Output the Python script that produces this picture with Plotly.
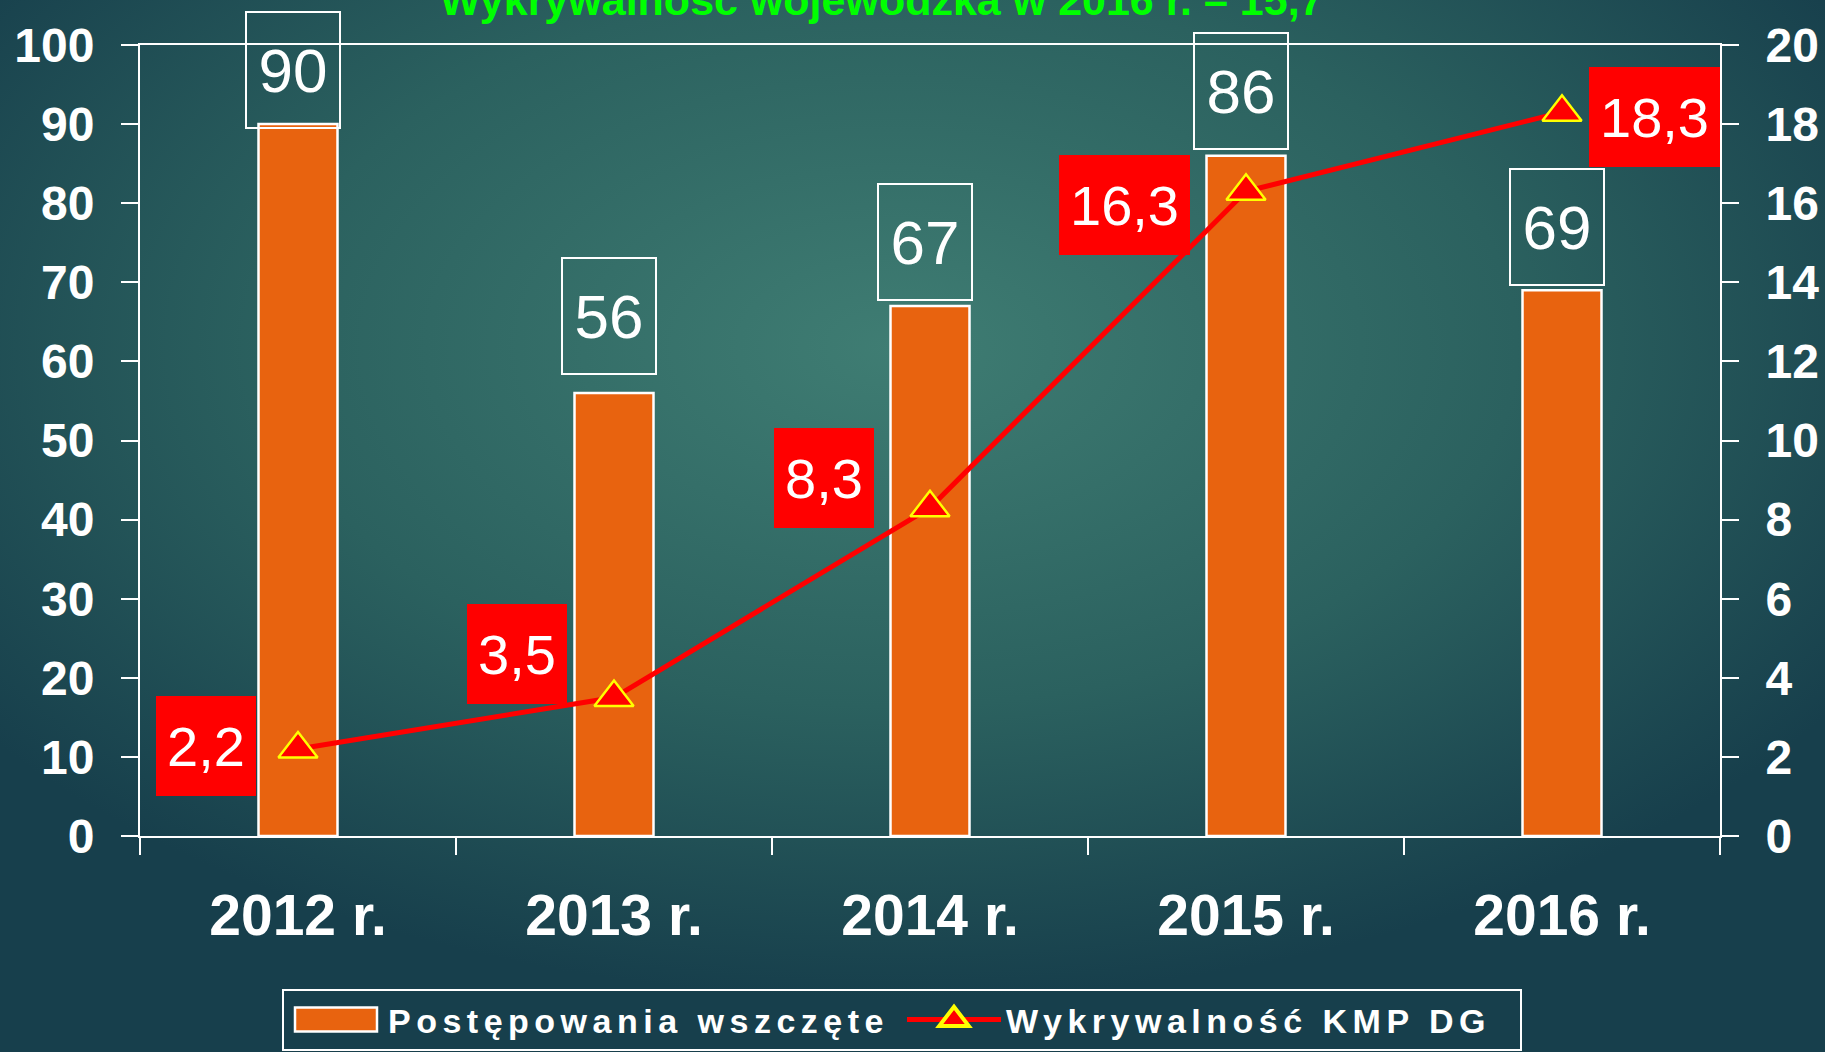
import base64
import plotly.graph_objects as go

# ---- data ----
years = ["2012 r.", "2013 r.", "2014 r.", "2015 r.", "2016 r."]
cases_started = [90, 56, 67, 86, 69]
detection_kmp = [2.2, 3.5, 8.3, 16.3, 18.3]
bar_name = "Postępowania wszczęte"
line_name = "Wykrywalność KMP DG"
title_text = "Wykrywalność wojewódzka w 2016 r. – 15,7"

# ---- geometry (px) ----
W, H = 1825, 1052
ML, MR, MT, MB = 140, 105, 45, 216
PW, PH = W - ML - MR, H - MT - MB

FONT = "Liberation Sans, Arial, sans-serif"
WHITE = "#ffffff"
ORANGE = "#E8630F"
RED = "#FF0000"

def py(p):  # pixel y -> paper y
    return (H - MB - p) / PH

def px(p):  # pixel x -> paper x
    return (p - ML) / PW

# background radial gradient (SVG)
svg = f"""<svg xmlns='http://www.w3.org/2000/svg' width='{W}' height='{H}' viewBox='0 0 {W} {H}' preserveAspectRatio='none'>
<defs><radialGradient id='g' cx='0.49' cy='0.33' r='0.62'>
<stop offset='0' stop-color='#3f7d73'/>
<stop offset='0.55' stop-color='#2b615f'/>
<stop offset='1' stop-color='#173f4c'/>
</radialGradient></defs>
<rect x='0' y='0' width='{W}' height='{H}' fill='url(#g)'/></svg>"""
bg_uri = "data:image/svg+xml;base64," + base64.b64encode(svg.encode()).decode()

fig = go.Figure()

fig.add_trace(go.Bar(
    x=years, y=cases_started, name=bar_name,
    marker=dict(color=ORANGE, line=dict(color=WHITE, width=2.5)),
    width=0.25, yaxis="y", xaxis="x",
))

fig.add_trace(go.Scatter(
    x=years, y=detection_kmp, name=line_name, yaxis="y2", xaxis="x",
    mode="lines+markers",
    line=dict(color=RED, width=5),
    marker=dict(symbol="triangle-up", size=34, color=RED,
                line=dict(color="#FFFF00", width=2.5)),
))

annotations = []
# bar value boxes (vertical nudges in px, as placed in the reference)
bar_label_nudge = [-5, 18, 5, 6, 4]
for cat, v, dy in zip(years, cases_started, bar_label_nudge):
    annotations.append(dict(
        x=cat, y=v, xref="x", yref="y", showarrow=False,
        text=str(v), font=dict(family=FONT, size=62, color=WHITE),
        xanchor="center", yanchor="bottom", xshift=-5, yshift=dy,
        bordercolor=WHITE, borderwidth=2, borderpad=11,
        width=70, height=92, bgcolor="rgba(0,0,0,0)",
    ))

# line value boxes (offsets in px relative to point)
label_offsets = [(-92, 3), (-97, 44), (-106, 30), (-122, -14), (92, -5)]
for cat, v, (dx, dy) in zip(years, detection_kmp, label_offsets):
    annotations.append(dict(
        x=cat, y=v, xref="x", yref="y2", showarrow=False,
        text=f"{v:.1f}".replace(".", ","),
        font=dict(family=FONT, size=56, color=WHITE),
        xanchor="center", yanchor="middle", xshift=dx, yshift=dy,
        bgcolor=RED, borderwidth=0, borderpad=11, height=78,
    ))

# title (partly cut off at top, as in reference)
annotations.append(dict(
    x=px(882), y=py(0), xref="paper", yref="paper", showarrow=False,
    text=title_text,
    font=dict(family=FONT, size=43, color="#00FF00", weight="bold"),
    xanchor="center", yanchor="middle",
))

tickfont = dict(family=FONT, size=48, color=WHITE, weight="bold")

fig.update_layout(
    width=W, height=H,
    margin=dict(l=ML, r=MR, t=MT, b=MB, pad=0, autoexpand=False),
    paper_bgcolor="#173f4c",
    plot_bgcolor="rgba(0,0,0,0)",
    images=[dict(source=bg_uri, xref="paper", yref="paper",
                 x=px(0), y=py(0), sizex=W / PW, sizey=H / PH,
                 xanchor="left", yanchor="top", sizing="stretch",
                 layer="below")],
    showlegend=True,
    legend=dict(
        orientation="h", x=px(282), y=py(989), xanchor="left", yanchor="top",
        bgcolor="rgba(0,0,0,0)", bordercolor=WHITE, borderwidth=2,
        font=dict(family=FONT, size=34, color=WHITE, weight="bold"),
        itemwidth=94, entrywidth=509, traceorder="normal",
    ),
    bargap=0.75,
    xaxis=dict(
        type="category", categoryorder="array", categoryarray=years,
        range=[-0.5, 4.5], showline=True, linecolor=WHITE, linewidth=2,
        mirror=True, showgrid=False, zeroline=False, automargin=False,
        ticks="outside", tickson="boundaries", ticklen=17, tickwidth=2,
        tickcolor=WHITE, tickfont=dict(family=FONT, size=57, color=WHITE, weight="bold"),
        ticklabelstandoff=29,
    ),
    xaxis3=dict(
        overlaying="x", anchor="y", type="linear", range=[-0.5, 4.5],
        tickvals=[-0.5, 0.5, 1.5, 2.5, 3.5, 4.5], ticks="inside",
        ticklen=17, tickwidth=2, tickcolor=WHITE, showticklabels=False,
        showgrid=False, zeroline=False, showline=False,
    ),
    yaxis=dict(
        range=[0, 100], dtick=10, showline=True, linecolor=WHITE, linewidth=2,
        showgrid=False, zeroline=False, ticks="outside", ticklen=17, automargin=False,
        tickwidth=2, tickcolor=WHITE, tickfont=tickfont, ticklabelstandoff=17,
    ),
    yaxis3=dict(
        overlaying="y", anchor="x", range=[0, 100], dtick=10, side="left",
        ticks="inside", ticklen=17, tickwidth=2, tickcolor=WHITE,
        showticklabels=False, showgrid=False, zeroline=False, showline=False,
    ),
    yaxis2=dict(
        overlaying="y", side="right", anchor="x", range=[0, 20], dtick=2,
        showline=True, linecolor=WHITE, linewidth=2, showgrid=False, automargin=False,
        zeroline=False, ticks="outside", ticklen=17, tickwidth=2,
        tickcolor=WHITE, tickfont=tickfont, ticklabelstandoff=17,
    ),
    yaxis4=dict(
        overlaying="y", side="right", anchor="x", range=[0, 20], dtick=2,
        ticks="inside", ticklen=17, tickwidth=2, tickcolor=WHITE,
        showticklabels=False, showgrid=False, zeroline=False, showline=False,
    ),
    annotations=annotations,
)

post = """
document.body.style.margin='0';
document.body.style.overflow='hidden';
function fixLegend(){
  document.querySelectorAll('.legendtext').forEach(function(t){t.style.letterSpacing='5.5px';});
  document.querySelectorAll('g.legendpoints path').forEach(function(p){
    var d = (p.getAttribute('d') || '').replace(/\\s/g,'');
    if (d === 'M6,6H-6V-6H6Z' || p.classList.contains('legendbar')) {
      p.setAttribute('d','M41,12H-41V-12H41Z');
    }
  });
  document.querySelectorAll('g.legendpoints path.scatterpts').forEach(function(p){
    if (p.getAttribute('data-scaled') !== '1') {
      var t = p.getAttribute('transform') || '';
      p.setAttribute('transform', t + ' scale(1.6)');
      p.setAttribute('data-scaled','1');
    }
  });
}
fixLegend();
setTimeout(fixLegend, 50);
setTimeout(fixLegend, 400);
var gdEl = document.getElementById('{plot_id}');
if (gdEl && gdEl.on) { gdEl.on('plotly_afterplot', fixLegend); }
"""

fig.write_html("out.html", config={"displayModeBar": False}, post_script=post)
